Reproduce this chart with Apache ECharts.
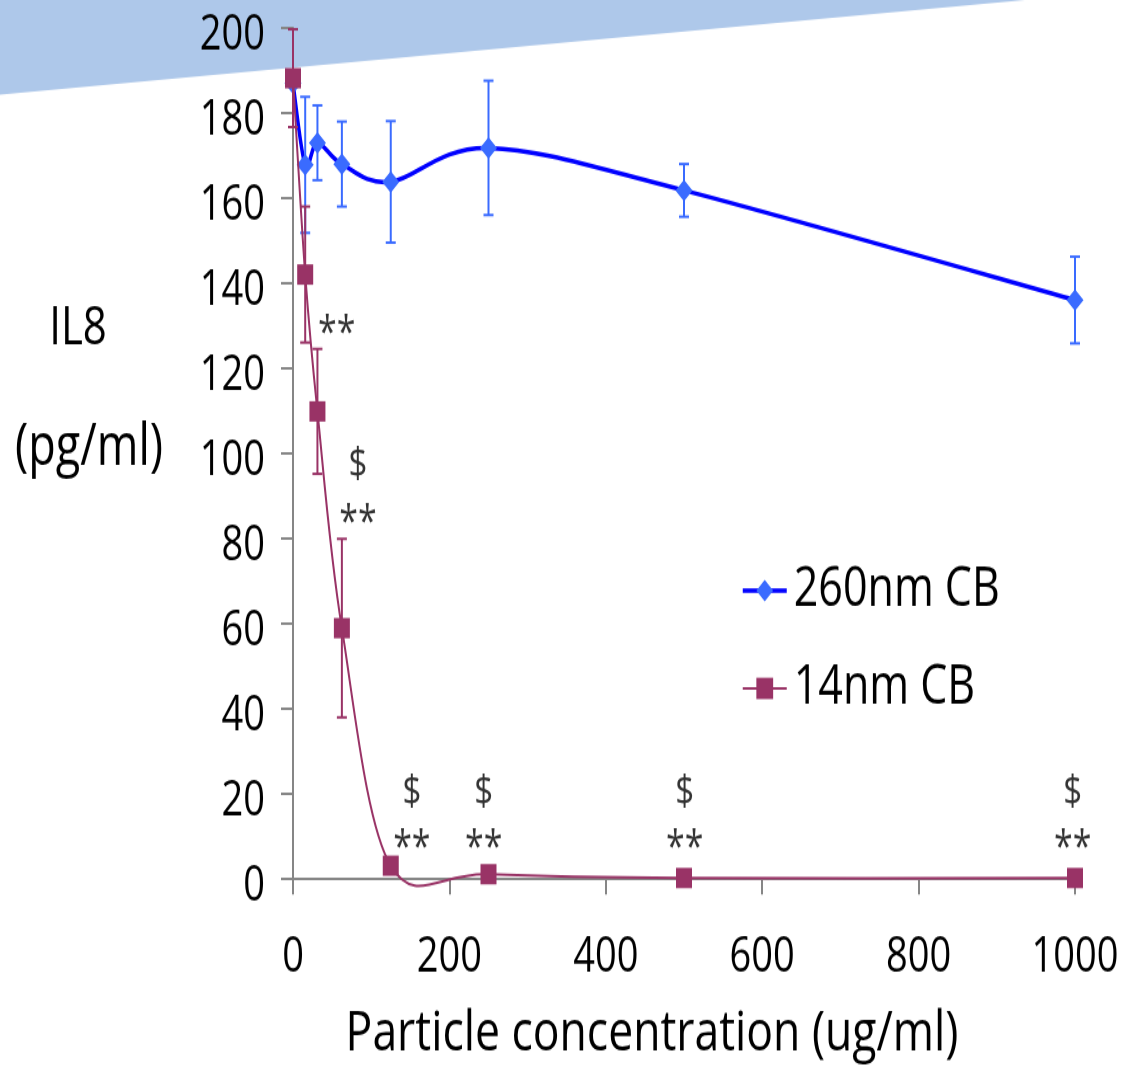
<!DOCTYPE html>
<html>
<head>
<meta charset="utf-8">
<title>IL8 vs particle concentration</title>
<script src="https://cdn.jsdelivr.net/npm/echarts@6/dist/echarts.min.js"></script>
<style>
  html, body { margin: 0; padding: 0; background: #fff; overflow: hidden; }
  #wrap { width: 1135px; height: 1072px; overflow: hidden; }
  /* chart is laid out at a flatter height and stretched vertically */
  #chart { width: 1135px; height: 844px; transform: scaleY(1.2701); transform-origin: 0 0; }
</style>
</head>
<body>
<div id="wrap"><div id="chart"></div></div>
<script>
// Particle concentration (ug/ml)
const concentration = [0, 15.6, 31.25, 62.5, 125, 250, 500, 1000];

// IL8 (pg/ml), mean and error, 260nm CB
const il8Cb260 = [187, 167.8, 173, 168, 163.8, 171.8, 161.8, 136];
const errCb260 = [0, 16, 8.8, 10, 14.3, 15.8, 6.2, 10.2];

// IL8 (pg/ml), mean and error, 14nm CB
const il8Cb14 = [188.2, 142, 109.8, 58.8, 2.9, 0.9, 0, 0];
const errCb14 = [11.5, 16, 14.7, 21, 0, 0, 0, 0];

// significance markers: [x, y] in data units
const starMarks = [[56, 130.4], [83, 85.8], [152, 9.4], [244, 9.4], [501, 9.4], [997, 9.4]];
const dollarMarks = [[83, 97.1], [152, 20], [244, 20], [501, 20], [997, 20]];

const yTicks = { min: 0, max: 200, interval: 20 };
const xTicks = { min: 0, max: 1000, interval: 200 };

const FONT = '"Open Sans", "Noto Sans", sans-serif';
const BLUE_LINE = '#0000FF';
const BLUE_MARK = '#3A6BFF';
const MAROON = '#993366';

function pairs(xs, ys) { return xs.map((x, i) => [x, ys[i]]); }
function triples(xs, ys, es) { return xs.map((x, i) => [x, ys[i], es[i]]); }

// vertical error bar with short caps at mean +/- error
function errorBars(color) {
  return function (params, api) {
    const x = api.value(0), y = api.value(1), e = api.value(2);
    const top = api.coord([x, y + e]);
    const bot = api.coord([x, y - e]);
    const half = 5;
    const style = { stroke: color, lineWidth: 2 };
    return {
      type: 'group',
      children: [
        { type: 'line', shape: { x1: top[0], y1: top[1], x2: bot[0], y2: bot[1] }, style },
        { type: 'line', shape: { x1: top[0] - half, y1: top[1], x2: top[0] + half, y2: top[1] }, style },
        { type: 'line', shape: { x1: bot[0] - half, y1: bot[1], x2: bot[0] + half, y2: bot[1] }, style }
      ]
    };
  };
}

// smoothed connecting line: one cubic Bezier per segment (Catmull-Rom style tangents)
function smoothSegments(xs, ys, color, width) {
  return function (params, api) {
    const i = params.dataIndex;
    const n = xs.length;
    if (i >= n - 1) return null;
    const p = (k) => api.coord([xs[Math.max(0, Math.min(n - 1, k))], ys[Math.max(0, Math.min(n - 1, k))]]);
    const p0 = p(i - 1), p1 = p(i), p2 = p(i + 1), p3 = p(i + 2);
    return {
      type: 'bezierCurve',
      shape: {
        x1: p1[0], y1: p1[1],
        x2: p2[0], y2: p2[1],
        cpx1: p1[0] + (p2[0] - p0[0]) / 6, cpy1: p1[1] + (p2[1] - p0[1]) / 6,
        cpx2: p2[0] - (p3[0] - p1[0]) / 6, cpy2: p2[1] - (p3[1] - p1[1]) / 6
      },
      style: { stroke: color, lineWidth: width, fill: null, lineCap: 'round', lineJoin: 'round' }
    };
  };
}

const chart = echarts.init(document.getElementById('chart'), null, { renderer: 'canvas' });

chart.setOption({
  animation: false,
  backgroundColor: '#fff',
  textStyle: { fontFamily: FONT },
  grid: { left: 293, right: 60, top: 22.05, bottom: 152.7 },
  graphic: [
    {
      type: 'polygon', z: -10, silent: true,
      shape: { points: [[0, 0], [1025, 0], [0, 74.5]] },
      style: { fill: '#AEC8EA' }
    },
    {
      type: 'text', z: 10,
      style: { x: 78, y: 259, text: 'IL8', fontSize: 42, fontFamily: FONT, fill: '#000', align: 'center', verticalAlign: 'middle' }
    },
    {
      type: 'text', z: 10,
      style: { x: 89, y: 353, text: '(pg/ml)', fontSize: 45, fontFamily: FONT, fill: '#000', align: 'center', verticalAlign: 'middle' }
    },
    {
      type: 'text', z: 10,
      style: { x: 652, y: 814, text: 'Particle concentration (ug/ml)', fontSize: 44.5, fontFamily: FONT, fill: '#000', align: 'center', verticalAlign: 'middle' }
    }
  ],
  legend: {
    orient: 'vertical',
    left: 736,
    top: 438,
    itemWidth: 44,
    itemHeight: 21,
    itemGap: 33,
    textStyle: { fontSize: 43, lineHeight: 44, fontFamily: FONT, color: '#000', padding: [0, 0, 0, 2] },
    data: [
      { name: '260nm CB', lineStyle: { color: BLUE_LINE, width: 3.5, opacity: 1 } },
      { name: '14nm CB', lineStyle: { color: MAROON, width: 2, opacity: 1 } }
    ]
  },
  xAxis: {
    type: 'value',
    min: xTicks.min, max: xTicks.max, interval: xTicks.interval,
    splitLine: { show: false },
    axisLine: { show: true, lineStyle: { color: '#868686', width: 2 } },
    axisTick: { show: true, inside: false, length: 13, lineStyle: { color: '#868686', width: 2 } },
    axisLabel: { fontSize: 38, fontFamily: FONT, color: '#000', margin: 44, formatter: (v) => String(v) }
  },
  yAxis: {
    type: 'value',
    min: yTicks.min, max: yTicks.max, interval: yTicks.interval,
    splitLine: { show: false },
    axisLine: { show: true, lineStyle: { color: '#868686', width: 2 } },
    axisTick: { show: true, inside: false, length: 12, lineStyle: { color: '#868686', width: 2 } },
    axisLabel: { fontSize: 38, fontFamily: FONT, color: '#000', margin: 28, verticalAlign: 'top', lineHeight: 13 }
  },
  series: [
    {
      name: 'curve260', type: 'custom', z: 2, silent: true,
      renderItem: smoothSegments(concentration, il8Cb260, BLUE_LINE, 3.5),
      data: pairs(concentration, il8Cb260),
      encode: { x: 0, y: 1 }
    },
    {
      name: 'err260', type: 'custom', z: 2,
      renderItem: errorBars(BLUE_MARK),
      data: triples(concentration, il8Cb260, errCb260),
      encode: { x: 0, y: 1 }
    },
    {
      name: '260nm CB', type: 'line', z: 3,
      symbol: 'diamond', symbolSize: 17,
      lineStyle: { color: BLUE_LINE, width: 3.5, opacity: 0 },
      itemStyle: { color: BLUE_MARK },
      data: pairs(concentration, il8Cb260)
    },
    {
      name: 'curve14', type: 'custom', z: 4, silent: true,
      renderItem: smoothSegments(concentration, il8Cb14, MAROON, 2),
      data: pairs(concentration, il8Cb14),
      encode: { x: 0, y: 1 }
    },
    {
      name: 'err14', type: 'custom', z: 4,
      renderItem: errorBars(MAROON),
      data: triples(concentration, il8Cb14, errCb14),
      encode: { x: 0, y: 1 }
    },
    {
      name: '14nm CB', type: 'line', z: 5,
      symbol: 'rect', symbolSize: 16,
      lineStyle: { color: MAROON, width: 2, opacity: 0 },
      itemStyle: { color: MAROON },
      data: pairs(concentration, il8Cb14)
    },
    {
      name: 'stars', type: 'scatter', z: 6, silent: true,
      symbolSize: 0,
      label: { show: true, position: 'inside', formatter: '**', fontSize: 34, fontFamily: FONT, color: '#000', offset: [0, 8] },
      data: starMarks
    },
    {
      name: 'dollars', type: 'scatter', z: 6, silent: true,
      symbolSize: 0,
      label: { show: true, position: 'inside', formatter: '$', fontSize: 33, fontFamily: FONT, color: '#000' },
      data: dollarMarks
    }
  ]
});
</script>
</body>
</html>
